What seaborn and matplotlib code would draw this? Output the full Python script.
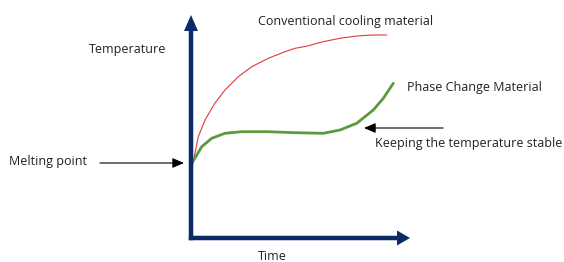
import pandas as pd
import seaborn as sns
import matplotlib.pyplot as plt

# curves (time, temperature; origin at the axes corner)
conv_time = [1, 2.3, 7.3, 14, 24, 34, 47.3, 60.7, 77.3, 94, 104, 115.7, 132, 149, 165.7, 182, 195.7]
conv_temp = [70, 76.3, 101.3, 118, 135, 148, 161.3, 171.3, 179.7, 186.3, 189.7, 191.8, 196.3, 199.7, 202, 203, 203]
pcm_time = [1, 4, 10.7, 20.7, 34, 50.7, 77.3, 104, 132.3, 149, 165.7, 182.3, 192.3, 202.3]
pcm_temp = [75, 80, 91.3, 99.7, 104.7, 106.3, 106.3, 105.3, 104.7, 108, 114.7, 128, 139.7, 154.7]

text_y = 'Temperature'
text_x = 'Time'
text_conv = 'Conventional cooling material'
text_pcm = 'Phase Change Material'
text_melt = 'Melting point'
text_stable = 'Keeping the temperature stable'

sns.set_style('white')
plt.rcParams['font.family'] = ['Open Sans', 'DejaVu Sans']

fig = plt.figure(figsize=(5.64, 2.62), dpi=100)
ax = fig.add_axes([0, 0, 1, 1])
ax.set_xlim(-191, 373)
ax.set_ylim(-24, 238)
ax.axis('off')

df_conv = pd.DataFrame({'time': conv_time, 'temp': conv_temp})
df_pcm = pd.DataFrame({'time': pcm_time, 'temp': pcm_temp})
sns.lineplot(data=df_conv, x='time', y='temp', color='#e03a3e', lw=0.8, ax=ax,
             sort=False, solid_joinstyle='round')
sns.lineplot(data=df_pcm, x='time', y='temp', color='#5b9a3b', lw=2.0, ax=ax,
             sort=False, solid_joinstyle='round', solid_capstyle='round')

navy = '#0b2a68'
# axes arrows (data units equal pixels here)
ax.arrow(0, -2.2, 0, 225.2, width=4.5, head_width=14, head_length=16,
         length_includes_head=True, color=navy, lw=0, zorder=3)
ax.arrow(-2.2, 0, 221.2, 0, width=4.5, head_width=15, head_length=13,
         length_includes_head=True, color=navy, lw=0, zorder=3)

# pointer arrows
ax.annotate('', xy=(-7, 75), xytext=(-91, 75),
            arrowprops=dict(arrowstyle='-|>,head_length=0.7,head_width=0.3',
                            color='black', lw=0.8, shrinkA=0, shrinkB=0))
ax.annotate('', xy=(173, 110), xytext=(252, 110),
            arrowprops=dict(arrowstyle='-|>,head_length=0.7,head_width=0.3',
                            color='black', lw=0.8, shrinkA=0, shrinkB=0))

fs = 9
tc = '#222222'
ax.text(-102, 188, text_y, fontsize=fs, va='center', ha='left', color=tc)
ax.text(67, -19, text_x, fontsize=fs, va='center', ha='left', color=tc)
ax.text(67, 216, text_conv, fontsize=fs, va='center', ha='left', color=tc)
ax.text(216, 150, text_pcm, fontsize=fs, va='center', ha='left', color=tc)
ax.text(-182, 76, text_melt, fontsize=fs, va='center', ha='left', color=tc)
ax.text(184, 95, text_stable, fontsize=fs, va='center', ha='left', color=tc)

fig.savefig('out.png', dpi=100)
